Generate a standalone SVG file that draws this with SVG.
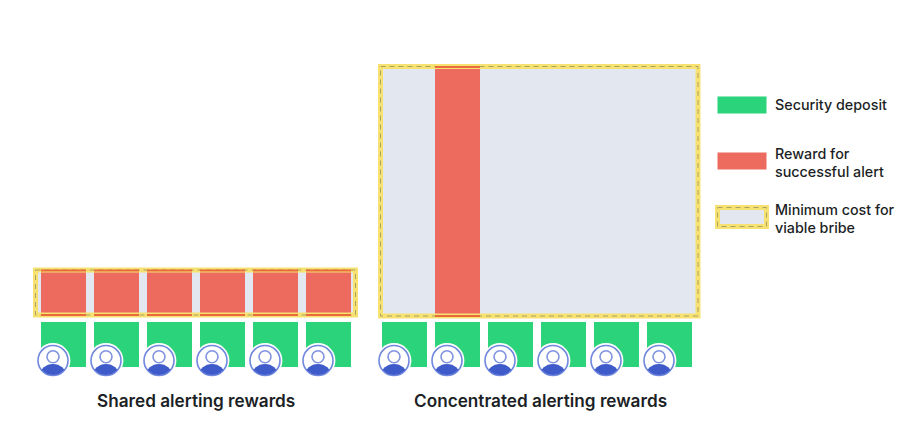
<svg xmlns="http://www.w3.org/2000/svg" width="922" height="436" viewBox="0 0 922 436">
<style>
.g{fill:#2bd47a}
.r{fill:#ec6a5e}
.b{fill:#e2e7f0}
.fo{fill:none;stroke:#f7e271;stroke-width:5}
.fd{fill:none;stroke:#a9a466;stroke-width:1;stroke-dasharray:5 4}
.edge{fill:#ea6a3c}
text{font-family:"Inter","Liberation Sans",sans-serif;fill:#1c1f26}
.cap{font-size:17.2px;font-weight:600}
.leg{font-size:14.3px;font-weight:500}
.ring{fill:#fff;stroke:#fff;stroke-width:2}
.ring2{fill:#fff;stroke:#6f87dc;stroke-width:1.6}
.head{fill:#fff;stroke:#7f93df;stroke-width:1.6}
.body{fill:#3f5bc9}
</style>
<defs>
<clipPath id="av"><circle cx="0" cy="0" r="14.6"/></clipPath>
<g id="user">
<circle class="ring" r="16.4"/>
<circle class="ring2" r="15"/>
<g clip-path="url(#av)"><ellipse class="body" cx="0" cy="15" rx="13" ry="11.5"/></g>
<circle class="head" cy="-3.800" r="6"/>
</g>
</defs>
<rect width="922" height="436" fill="#fff"/>
<g id="shared-pool">
<rect class="b" x="35.500" y="270" width="320" height="45"/>
<rect class="r" x="41" y="270" width="45" height="45"/>
<rect class="r" x="94" y="270" width="45" height="45"/>
<rect class="r" x="147" y="270" width="45" height="45"/>
<rect class="r" x="200" y="270" width="45" height="45"/>
<rect class="r" x="253" y="270" width="45" height="45"/>
<rect class="r" x="306" y="270" width="45" height="45"/>
<rect class="fo" x="35.500" y="270" width="320" height="45"/>
<rect class="fd" x="35.500" y="270" width="320" height="45"/>
<g class="edge">
<rect x="41" y="269.500" width="45" height="2"/><rect x="41" y="314" width="45" height="2"/>
<rect x="94" y="269.500" width="45" height="2"/><rect x="94" y="314" width="45" height="2"/>
<rect x="147" y="269.500" width="45" height="2"/><rect x="147" y="314" width="45" height="2"/>
<rect x="200" y="269.500" width="45" height="2"/><rect x="200" y="314" width="45" height="2"/>
<rect x="253" y="269.500" width="45" height="2"/><rect x="253" y="314" width="45" height="2"/>
<rect x="306" y="269.500" width="45" height="2"/><rect x="306" y="314" width="45" height="2"/>
</g>
</g>
<g id="shared-validators">
<rect class="g" x="41" y="322" width="45" height="45"/>
<rect class="g" x="94" y="322" width="45" height="45"/>
<rect class="g" x="147" y="322" width="45" height="45"/>
<rect class="g" x="200" y="322" width="45" height="45"/>
<rect class="g" x="253" y="322" width="45" height="45"/>
<rect class="g" x="306" y="322" width="45" height="45"/>
<use href="#user" x="53" y="360.500"/>
<use href="#user" x="106" y="360.500"/>
<use href="#user" x="159" y="360.500"/>
<use href="#user" x="212" y="360.500"/>
<use href="#user" x="265" y="360.500"/>
<use href="#user" x="318" y="360.500"/>
</g>
<g id="concentrated-pool">
<rect class="b" x="380.500" y="66.500" width="317.500" height="249.500"/>
<rect class="r" x="435" y="66.500" width="45" height="249.500"/>
<rect class="fo" x="380.500" y="66.500" width="317.500" height="249.500"/>
<rect class="fd" x="380.500" y="66.500" width="317.500" height="249.500"/>
<rect class="edge" x="435" y="66" width="45" height="2"/>
<rect class="edge" x="435" y="315" width="45" height="2"/>
</g>
<g id="concentrated-validators">
<rect class="g" x="382" y="322" width="45" height="45"/>
<rect class="g" x="435" y="322" width="45" height="45"/>
<rect class="g" x="488" y="322" width="45" height="45"/>
<rect class="g" x="541" y="322" width="45" height="45"/>
<rect class="g" x="594" y="322" width="45" height="45"/>
<rect class="g" x="647" y="322" width="45" height="45"/>
<use href="#user" x="394" y="360.500"/>
<use href="#user" x="447" y="360.500"/>
<use href="#user" x="500" y="360.500"/>
<use href="#user" x="553" y="360.500"/>
<use href="#user" x="606" y="360.500"/>
<use href="#user" x="659" y="360.500"/>
</g>
<g id="captions">
<text class="cap" x="97" y="407">Shared alerting rewards</text>
<text class="cap" x="414" y="407">Concentrated alerting rewards</text>
</g>
<g id="legend-deposit">
<rect class="g" x="717.500" y="96.500" width="49" height="17"/>
<text class="leg" x="775" y="109.500">Security deposit</text>
</g>
<g id="legend-reward">
<rect class="r" x="717.500" y="152.500" width="49" height="17"/>
<text class="leg" x="775" y="159">Reward for</text>
<text class="leg" x="775" y="177">successful alert</text>
</g>
<g id="legend-bribe">
<rect class="b" x="717.500" y="207.500" width="49" height="19"/>
<rect class="fo" x="717.500" y="207.500" width="49" height="19"/>
<rect class="fd" x="717.500" y="207.500" width="49" height="19"/>
<text class="leg" x="775" y="214.500">Minimum cost for</text>
<text class="leg" x="775" y="232.500">viable bribe</text>
</g>
</svg>
